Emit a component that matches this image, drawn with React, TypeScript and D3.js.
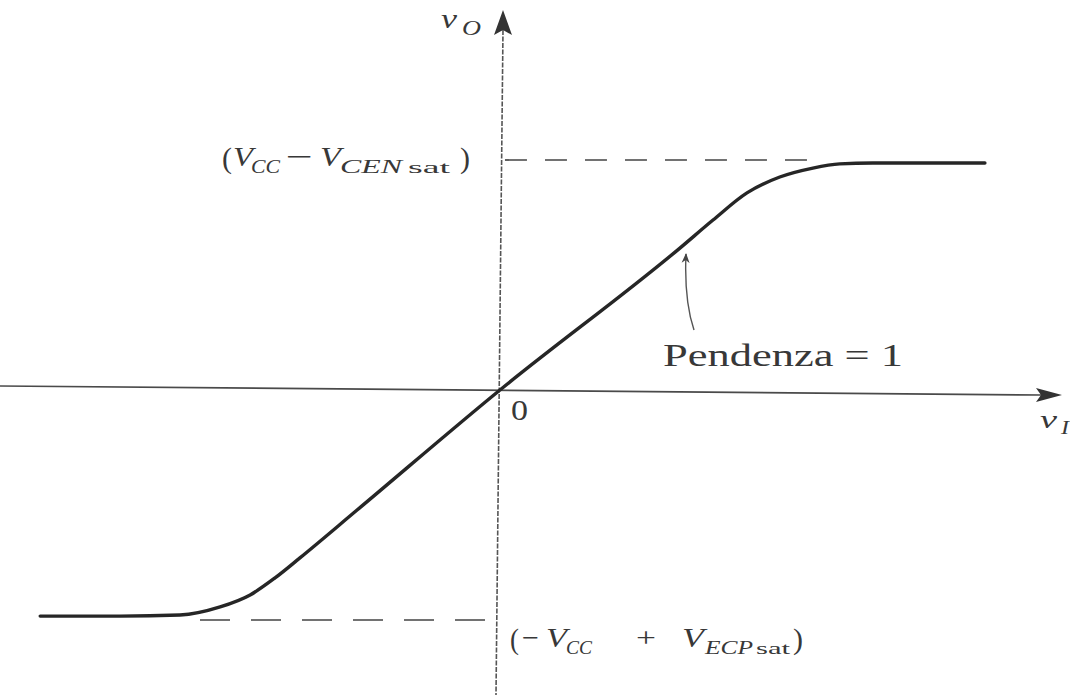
import React from "react";
import * as d3 from "d3";

const W = 1070;
const H = 695;

// Transfer characteristic v_O(v_I) (arbitrary volts)
const vIn = [-16.25, -13.43, -11.31, -9.89, -8.83, -7.95, -7.07, -5.05, 0, 6.36, 7.53, 8.73, 9.89, 11.06, 12.01, 13.18, 17.14];
const vOut = [-9.83, -9.83, -9.78, -9.43, -8.91, -8.17, -7.3, -5.22, 0, 6.17, 7.39, 8.57, 9.26, 9.65, 9.83, 9.87, 9.87];

// Saturation levels (upper, lower)
const satLevels = [10, -10];

const xDomain = [-17.6, 19.9];
const yDomain = [-10, 10];

const FONT = "'Liberation Serif', 'DejaVu Serif', serif";
const INK = "#262626";
const TXT = "#383838";

type P = { x: number; y: number; s: number; t: string; it?: boolean; w?: number };

const T = ({ x, y, s, t, it, w }: P) => (
  <text
    x={x}
    y={y}
    fontSize={s}
    fontStyle={it ? "italic" : "normal"}
    {...(w ? { textLength: w, lengthAdjust: "spacingAndGlyphs" } : {})}
  >
    {t}
  </text>
);

export default function App() {
  const x = d3.scaleLinear().domain(xDomain).range([2, 1063]);
  const y = d3.scaleLinear().domain(yDomain).range([620, 160]);

  const pts: [number, number][] = vIn.map((v, i) => [v, vOut[i]]);
  const curvePath = d3
    .line<[number, number]>()
    .x((d) => x(d[0]))
    .y((d) => y(d[1]))
    .curve(d3.curveMonotoneX)(pts) as string;

  const x0 = x(0);
  const y0 = y(0);
  const yTop = y(satLevels[0]);
  const yBot = y(satLevels[1]);

  return (
    <div style={{ position: "absolute", left: 0, top: 0 }}>
      <svg width={W} height={H} style={{ display: "block", background: "#fff" }}>
        <defs>
          <marker id="ann" viewBox="0 0 10 10" refX="9" refY="5" markerWidth="10" markerHeight="12" orient="auto" markerUnits="userSpaceOnUse">
            <path d="M0,1 L10,5 L0,9 L3,5 Z" fill="#444" />
          </marker>
        </defs>

        {/* x axis (slightly tilted like the scan) */}
        <line x1={0} y1={y0 - 4} x2={1042} y2={y0 + 5} stroke="#4a4a4a" strokeWidth={1.7} />
        <path d={`M1062,${y0 + 5} L1036,${y0 - 2} L1041,${y0 + 5} L1036,${y0 + 12} Z`} fill="#333" />

        {/* y axis */}
        <line x1={503} y1={30} x2={496} y2={H} stroke="#555" strokeWidth={1.6} strokeDasharray="5,1.5" />
        <path d="M503,10 L494,35 L503,30 L512,35 Z" fill="#333" />

        {/* saturation dashed lines */}
        <line x1={x0 + 5} y1={yTop} x2={808} y2={yTop} stroke="#444" strokeWidth={1.7} strokeDasharray="22,18" />
        <line x1={200} y1={yBot} x2={x0 - 2} y2={yBot} stroke="#444" strokeWidth={1.7} strokeDasharray="30,21" />

        {/* characteristic */}
        <path d={curvePath} fill="none" stroke={INK} strokeWidth={3.4} strokeLinecap="round" />

        {/* slope annotation arrow */}
        <path d="M694,330 Q684,300 686,254" fill="none" stroke="#555" strokeWidth={1.4} markerEnd="url(#ann)" />

        <g fontFamily={FONT} fill={TXT}>
          <T x={663} y={366} s={32} t="Pendenza = 1" w={240} />

          {/* origin */}
          <T x={511} y={420} s={29} t="0" w={17} />

          {/* axis labels */}
          <T x={441} y={28} s={27} t="v" it w={16} />
          <T x={462} y={35} s={20} t="O" it w={19} />
          <T x={1040} y={428} s={26} t="v" it w={17} />
          <T x={1061} y={434} s={19} t="I" it w={8} />

          {/* upper level label */}
          <T x={222} y={yTop + 8} s={29} t="(" w={10} />
          <T x={233} y={yTop + 6} s={28} t="V" it w={20} />
          <T x={251} y={yTop + 13} s={18} t="CC" it w={29} />
          <T x={286} y={yTop + 6} s={28} t="−" w={27} />
          <T x={320} y={yTop + 6} s={28} t="V" it w={21} />
          <T x={340} y={yTop + 13} s={19} t="CEN" it w={62} />
          <T x={408} y={yTop + 13} s={16} t="sat" w={42} />
          <T x={460} y={yTop + 8} s={29} t=")" w={10} />

          {/* lower level label */}
          <T x={510} y={yBot + 29} s={29} t="(" w={9} />
          <T x={522} y={yBot + 27} s={28} t="−" w={17} />
          <T x={546} y={yBot + 27} s={28} t="V" it w={21} />
          <T x={566} y={yBot + 34} s={18} t="CC" it w={26} />
          <T x={636} y={yBot + 27} s={28} t="+" w={20} />
          <T x={682} y={yBot + 27} s={28} t="V" it w={22} />
          <T x={705} y={yBot + 34} s={18} t="ECP" it w={48} />
          <T x={756} y={yBot + 34} s={16} t="sat" w={34} />
          <T x={793} y={yBot + 29} s={29} t=")" w={10} />
        </g>
      </svg>
    </div>
  );
}
